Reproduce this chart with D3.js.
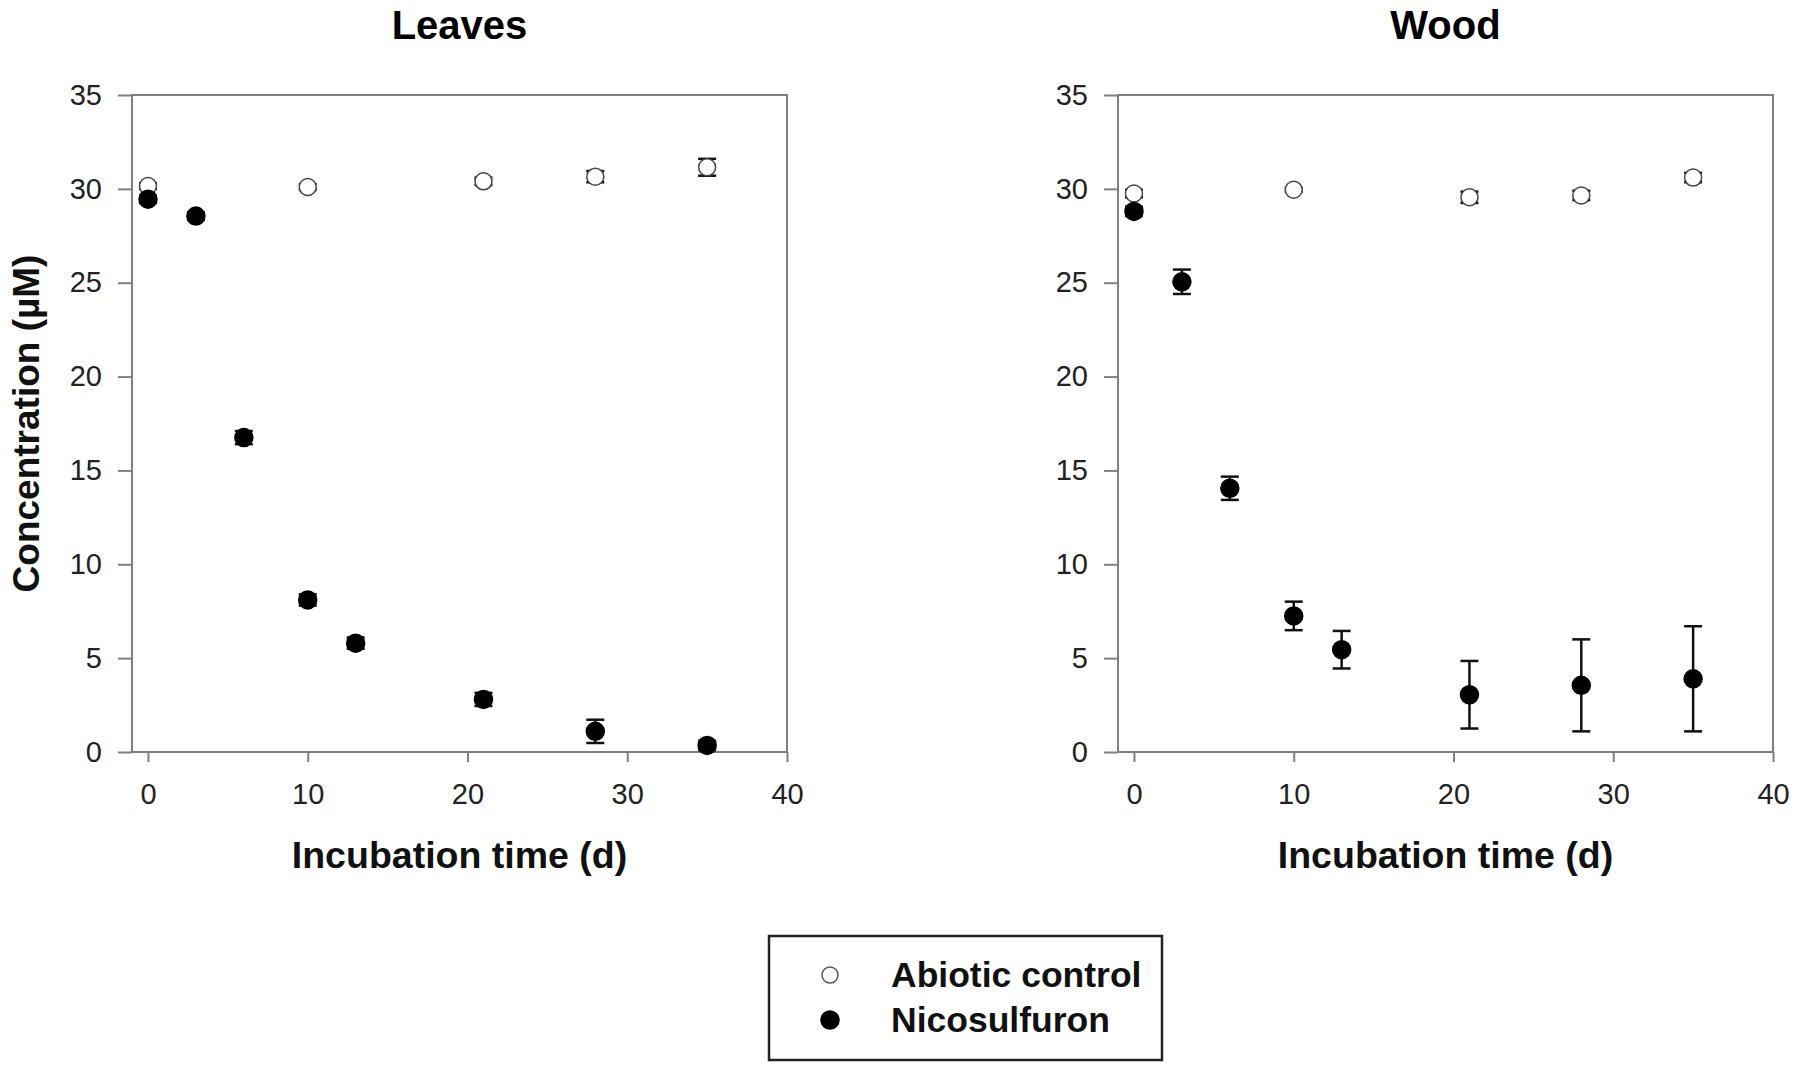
<!DOCTYPE html>
<html>
<head>
<meta charset="utf-8">
<script src="https://cdn.jsdelivr.net/npm/d3@7"></script>
<style>
  body { margin: 0; background: #fff; }
  text { font-family: "Liberation Sans", Arial, sans-serif; }
</style>
</head>
<body>
<div id="chart"></div>
<script>
// data (days, mean concentration in µM, error)
const days = [0, 3, 6, 10, 13, 21, 28, 35];
const controlDays = [0, 10, 21, 28, 35];

const leavesControl = [30.15, 30.1, 30.4, 30.65, 31.15];
const leavesControlErr = [0.15, 0.15, 0.2, 0.3, 0.45];
const leavesNico = [29.45, 28.55, 16.75, 8.1, 5.8, 2.8, 1.1, 0.35];
const leavesNicoErr = [0.2, 0.2, 0.35, 0.3, 0.3, 0.35, 0.62, 0.25];

const woodControl = [29.75, 29.95, 29.55, 29.65, 30.6];
const woodControlErr = [0.2, 0.1, 0.3, 0.25, 0.25];
const woodNico = [28.8, 25.05, 14.05, 7.25, 5.45, 3.05, 3.55, 3.9];
const woodNicoErr = [0.25, 0.65, 0.62, 0.76, 1.0, 1.8, 2.45, 2.8];

const xTicks = [0, 10, 20, 30, 40];
const yTicks = [0, 5, 10, 15, 20, 25, 30, 35];
const panelTitles = ["Leaves", "Wood"];
const legendLabels = ["Abiotic control", "Nicosulfuron"];

const W = 1800, H = 1066;
const plotTop = 95, plotBottom = 752, plotWidth = 655;
const panelLeft = [132, 1118];

const svg = d3.select("#chart")
  .append("svg")
  .attr("width", W)
  .attr("height", H);

svg.append("rect").attr("width", W).attr("height", H).attr("fill", "#fff");

const y = d3.scaleLinear().domain([0, 35]).range([plotBottom, plotTop]);

const panels = [
  { control: leavesControl, controlErr: leavesControlErr, nico: leavesNico, nicoErr: leavesNicoErr },
  { control: woodControl, controlErr: woodControlErr, nico: woodNico, nicoErr: woodNicoErr }
];

panels.forEach((p, i) => {
  const left = panelLeft[i];
  const x = d3.scaleLinear().domain([-1, 40]).range([left, left + plotWidth]);
  const g = svg.append("g");

  // frame
  g.append("rect")
    .attr("x", left)
    .attr("y", plotTop)
    .attr("width", plotWidth)
    .attr("height", plotBottom - plotTop)
    .attr("fill", "none")
    .attr("stroke", "#808080")
    .attr("stroke-width", 2);

  const yAxis = g.append("g")
    .attr("transform", `translate(${left},0)`)
    .call(d3.axisLeft(y).tickValues(yTicks).tickSize(14).tickPadding(16));

  const xAxis = g.append("g")
    .attr("transform", `translate(0,${plotBottom})`)
    .call(d3.axisBottom(x).tickValues(xTicks).tickSize(10).tickPadding(21));

  [yAxis, xAxis].forEach(a => {
    a.select(".domain").remove();
    a.selectAll(".tick line").attr("stroke", "#808080").attr("stroke-width", 2);
    a.selectAll(".tick text")
      .attr("fill", "#222")
      .style("font-size", "29px")
      .style("font-family", "'Liberation Sans', Arial, sans-serif");
  });

  // title
  g.append("text")
    .attr("x", left + plotWidth / 2)
    .attr("y", 39)
    .attr("text-anchor", "middle")
    .style("font-size", "40px")
    .style("font-weight", "bold")
    .text(panelTitles[i]);

  g.append("text")
    .attr("x", left + plotWidth / 2)
    .attr("y", 868)
    .attr("text-anchor", "middle")
    .style("font-size", "37.5px")
    .style("font-weight", "bold")
    .attr("fill", "#111")
    .text("Incubation time (d)");

  const series = [
    { xs: controlDays, ys: p.control, err: p.controlErr, fill: "#fff", stroke: "#444", r: 8.5 },
    { xs: days, ys: p.nico, err: p.nicoErr, fill: "#000", stroke: "#000", r: 9 }
  ];

  series.forEach(s => {
    const pts = s.xs.map((d, k) => ({ d: d, v: s.ys[k], e: s.err[k] }));

    const bars = g.append("g")
      .attr("stroke", "#111")
      .attr("stroke-width", 2.5);

    bars.selectAll("line.stem")
      .data(pts)
      .join("line")
      .attr("x1", d => x(d.d))
      .attr("x2", d => x(d.d))
      .attr("y1", d => y(d.v - d.e))
      .attr("y2", d => y(d.v + d.e));

    bars.selectAll("line.capTop")
      .data(pts)
      .join("line")
      .attr("class", "capTop")
      .attr("x1", d => x(d.d) - 9)
      .attr("x2", d => x(d.d) + 9)
      .attr("y1", d => y(d.v + d.e))
      .attr("y2", d => y(d.v + d.e));

    bars.selectAll("line.capBottom")
      .data(pts)
      .join("line")
      .attr("class", "capBottom")
      .attr("x1", d => x(d.d) - 9)
      .attr("x2", d => x(d.d) + 9)
      .attr("y1", d => y(d.v - d.e))
      .attr("y2", d => y(d.v - d.e));

    g.append("g").selectAll("circle")
      .data(pts)
      .join("circle")
      .attr("cx", d => x(d.d))
      .attr("cy", d => y(d.v))
      .attr("r", s.r)
      .attr("fill", s.fill)
      .attr("stroke", s.stroke)
      .attr("stroke-width", 1.5);
  });
});

// y axis label (left panel only)
svg.append("text")
  .attr("transform", `translate(39,${(plotTop + plotBottom) / 2}) rotate(-90)`)
  .attr("text-anchor", "middle")
  .style("font-size", "37px")
  .style("font-weight", "bold")
  .attr("fill", "#111")
  .text("Concentration (µM)");

// legend
const legend = svg.append("g");

legend.append("rect")
  .attr("x", 769)
  .attr("y", 936)
  .attr("width", 393)
  .attr("height", 124)
  .attr("fill", "#fff")
  .attr("stroke", "#222")
  .attr("stroke-width", 2.5);

const legendRows = [
  { label: legendLabels[0], fill: "#fff", stroke: "#555", r: 8, cy: 975 },
  { label: legendLabels[1], fill: "#000", stroke: "#000", r: 9, cy: 1020 }
];

legendRows.forEach(row => {
  legend.append("circle")
    .attr("cx", 830)
    .attr("cy", row.cy)
    .attr("r", row.r)
    .attr("fill", row.fill)
    .attr("stroke", row.stroke)
    .attr("stroke-width", 1.5);

  legend.append("text")
    .attr("x", 891)
    .attr("y", row.cy + 12)
    .style("font-size", "35.5px")
    .style("font-weight", "bold")
    .attr("fill", "#111")
    .text(row.label);
});
</script>
</body>
</html>
